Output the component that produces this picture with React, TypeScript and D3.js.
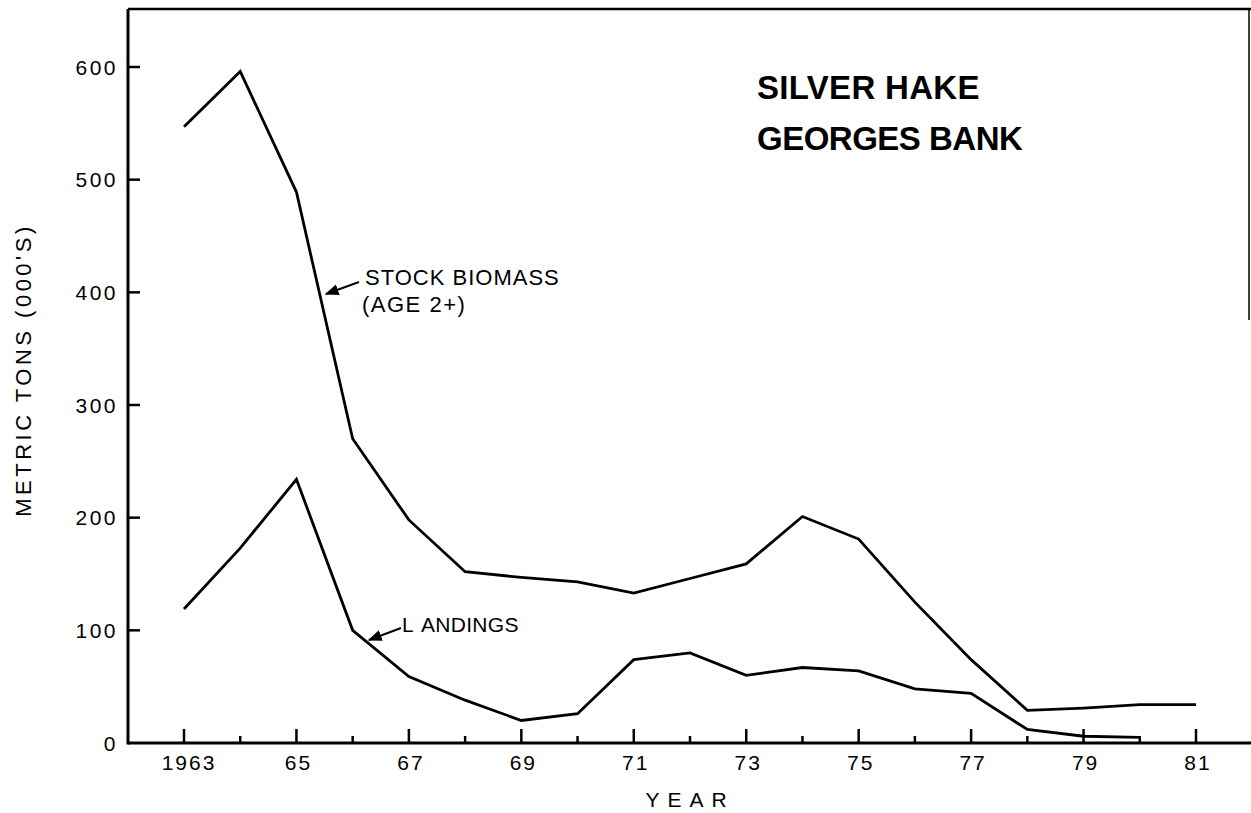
import React from "react";
import * as d3 from "d3";

const years = [1963, 1964, 1965, 1966, 1967, 1968, 1969, 1970, 1971, 1972, 1973, 1974, 1975, 1976, 1977, 1978, 1979, 1980, 1981];
const biomass = [547, 596, 489, 270, 198, 152, 147, 143, 133, 146, 159, 201, 181, 125, 74, 29, 31, 34, 34];
const landingYears = [1963, 1964, 1965, 1966, 1967, 1968, 1969, 1970, 1971, 1972, 1973, 1974, 1975, 1976, 1977, 1978, 1979, 1980];
const landings = [119, 173, 234, 100, 59, 38, 20, 26, 74, 80, 60, 67, 64, 48, 44, 12, 6, 5];
const yTicks = [0, 100, 200, 300, 400, 500, 600];
const xLabelYears = [1963, 1965, 1967, 1969, 1971, 1973, 1975, 1977, 1979, 1981];
const xLabels = ["1963", "65", "67", "69", "71", "73", "75", "77", "79", "81"];

const W = 1251;
const H = 813;
const FONT = "'Liberation Sans', Arial, sans-serif";

export default function App() {
  const x = d3.scaleLinear().domain([1963, 1981]).range([184, 1196]);
  const y = d3.scaleLinear().domain([0, 600]).range([743, 67]);
  const axisX = 128;
  const axisY = y(0);

  const line = d3
    .line<[number, number]>()
    .x((d) => x(d[0]))
    .y((d) => y(d[1]));

  const bioPath = line(years.map((yr, i) => [yr, biomass[i]] as [number, number])) || "";
  const landPath = line(landingYears.map((yr, i) => [yr, landings[i]] as [number, number])) || "";

  const allYears = d3.range(1963, 1982);

  return (
    <svg
      width={W}
      height={H}
      viewBox={`0 0 ${W} ${H}`}
      style={{ position: "absolute", left: 0, top: 0, background: "#fff" }}
    >
      <defs>
        <marker id="arr" viewBox="0 0 10 10" refX="9" refY="5" markerWidth="7" markerHeight="7" orient="auto">
          <path d="M0,1 L10,5 L0,9 Z" fill="#000" />
        </marker>
      </defs>
      <rect x={0} y={0} width={W} height={H} fill="#fff" />

      {/* frame */}
      <line x1={axisX} y1={9} x2={W} y2={9} stroke="#000" strokeWidth={2.5} />
      <line x1={1249} y1={9} x2={1249} y2={320} stroke="#000" strokeWidth={1.5} />
      <line x1={axisX} y1={9} x2={axisX} y2={axisY + 1.5} stroke="#000" strokeWidth={3} />
      <line x1={axisX} y1={axisY} x2={W} y2={axisY} stroke="#000" strokeWidth={3} />

      {/* y ticks */}
      {yTicks.map((t) => (
        <g key={t}>
          {t > 0 && <line x1={axisX} y1={y(t)} x2={axisX + 12} y2={y(t)} stroke="#000" strokeWidth={2.5} />}
          <text
            x={118}
            y={y(t) + 7.5}
            textAnchor="end"
            fontFamily={FONT}
            fontSize={21}
            letterSpacing={2.5}
            fill="#000"
          >
            {t}
          </text>
        </g>
      ))}

      {/* x ticks */}
      {allYears.map((yr) => {
        const major = (yr - 1963) % 2 === 0;
        return (
          <line
            key={yr}
            x1={x(yr)}
            y1={axisY}
            x2={x(yr)}
            y2={axisY - (major ? 14 : 7)}
            stroke="#000"
            strokeWidth={2.5}
          />
        );
      })}
      {xLabelYears.map((yr, i) => (
        <text
          key={yr}
          x={x(yr) + (i === 0 ? 5 : 2)}
          y={770}
          textAnchor="middle"
          fontFamily={FONT}
          fontSize={21}
          letterSpacing={2}
          fill="#000"
        >
          {xLabels[i]}
        </text>
      ))}

      {/* axis titles */}
      <text
        x={690}
        y={807}
        textAnchor="middle"
        fontFamily={FONT}
        fontSize={21}
        letterSpacing={8}
        fill="#000"
      >
        YEAR
      </text>
      <text
        transform={`translate(31,370) rotate(-90)`}
        textAnchor="middle"
        fontFamily={FONT}
        fontSize={22}
        letterSpacing={3.5}
        fill="#000"
      >
        METRIC TONS (000'S)
      </text>

      {/* data lines */}
      <path d={bioPath} fill="none" stroke="#000" strokeWidth={2.8} strokeLinejoin="miter" />
      <path d={landPath} fill="none" stroke="#000" strokeWidth={2.8} strokeLinejoin="miter" />

      {/* title */}
      <text x={757} y={99} fontFamily={FONT} fontSize={33} fontWeight="bold" letterSpacing={0.3} fill="#000">
        SILVER HAKE
      </text>
      <text x={757} y={150} fontFamily={FONT} fontSize={33} fontWeight="bold" letterSpacing={-0.5} fill="#000">
        GEORGES BANK
      </text>

      {/* annotations */}
      <line x1={359} y1={282} x2={326} y2={294} stroke="#000" strokeWidth={2} markerEnd="url(#arr)" />
      <text x={365} y={285} fontFamily={FONT} fontSize={22} letterSpacing={1} fill="#000">
        STOCK BIOMASS
      </text>
      <text x={362} y={312} fontFamily={FONT} fontSize={22} letterSpacing={1.5} fill="#000">
        (AGE 2+)
      </text>

      <line x1={401} y1={628} x2={369} y2={640} stroke="#000" strokeWidth={2} markerEnd="url(#arr)" />
      <text x={402} y={632} fontFamily={FONT} fontSize={21} letterSpacing={0.3} fill="#000">
        L<tspan dx={7}>ANDINGS</tspan>
      </text>
    </svg>
  );
}
